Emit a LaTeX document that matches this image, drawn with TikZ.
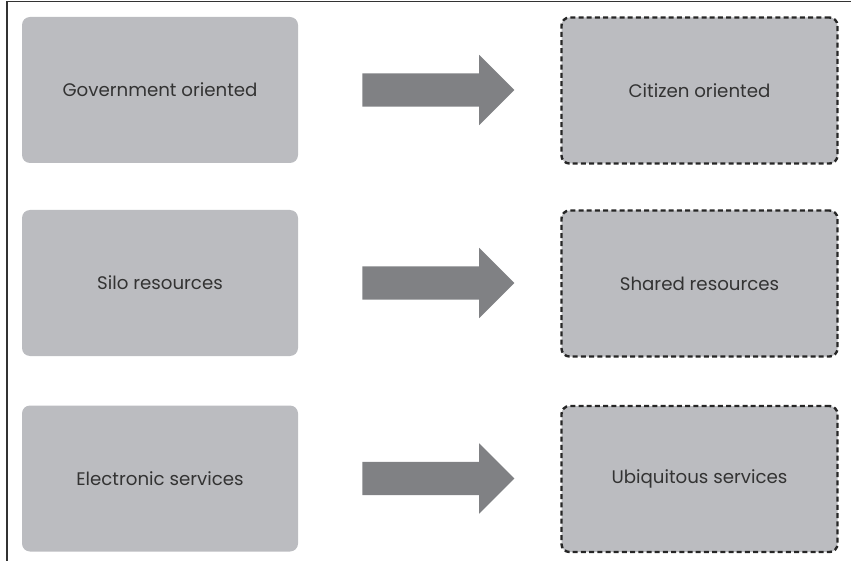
\documentclass[tikz,border=0pt]{standalone}
\usepackage{fontspec}
\setmainfont{Poppins}
\usetikzlibrary{shapes.arrows}
\definecolor{boxgray}{HTML}{BBBCC0}
\definecolor{arrowgray}{HTML}{808184}
\definecolor{txtgray}{HTML}{333333}
\tikzset{
  oldbox/.style={fill=boxgray, draw=none, rounded corners=8pt, minimum width=276pt, minimum height=146pt, text=txtgray, font=\fontsize{18.2}{21}\selectfont, inner sep=0pt},
  newbox/.style={oldbox, draw=black!85, line width=2.4pt, dash pattern=on 5pt off 3.2pt},
  bigarrow/.style={single arrow, fill=arrowgray, draw=none, text height=16.5pt, text depth=16.5pt, text width=0pt, single arrow head extend=18.5pt, single arrow head indent=0pt, minimum height=152pt, inner sep=0pt, outer sep=0pt}
  ,frameline/.style={draw=black!80, line width=1.3pt}
}
\begin{document}
\begin{tikzpicture}[x=1pt,y=-1pt]
\useasboundingbox (0,0) rectangle (851,561);
\coordinate (ftop) at (851,1.5);
\coordinate (fcorner) at (7,1.5);
\coordinate (fbot) at (7,561);
\draw[frameline] (ftop) -- (fcorner) -- (fbot);
\node[oldbox] (a1) at (160,90) {Government oriented};
\node[oldbox] (a2) at (160,283) {Silo resources};
\node[oldbox] (a3) at (160,478.5) {Electronic services};
\node[newbox] (b1) at (699.5,90.5) {Citizen oriented};
\node[newbox] (b2) at (699.5,283.5) {Shared resources};
\node[newbox] (b3) at (699.5,479) {Ubiquitous services};
\node[bigarrow] (r1) at (430,90) {};
\node[bigarrow] (r2) at (430,283) {};
\node[bigarrow] (r3) at (430,478.5) {};
\end{tikzpicture}
\end{document}
